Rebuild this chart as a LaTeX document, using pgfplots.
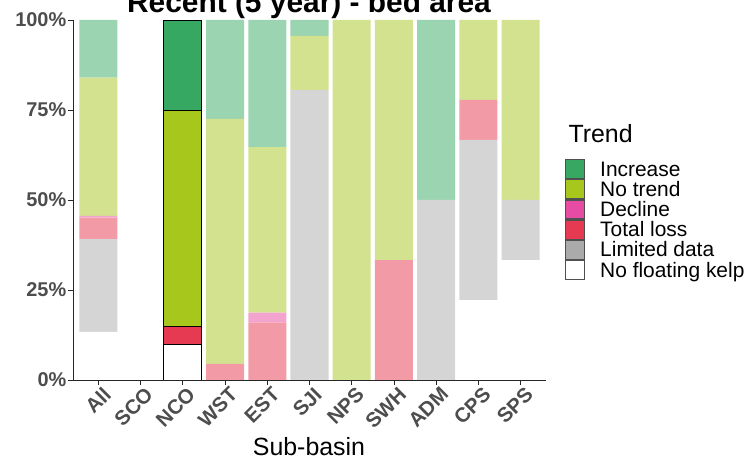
\documentclass[border=0pt]{standalone}
\usepackage{pgfplots}
\pgfplotsset{compat=1.18}
\usepackage{pgfplotstable}
\usepackage{fontspec}
\setmainfont{Liberation Sans}

\definecolor{inc}{HTML}{37A862}
\definecolor{incF}{HTML}{9BD4B1}
\definecolor{notr}{HTML}{A8C71D}
\definecolor{notrF}{HTML}{D3E28E}
\definecolor{dec}{HTML}{E64CA3}
\definecolor{decF}{HTML}{F2A3CE}
\definecolor{loss}{HTML}{E63A52}
\definecolor{lossF}{HTML}{F29BA7}
\definecolor{lim}{HTML}{AAAAAA}
\definecolor{limF}{HTML}{D5D5D5}
\definecolor{tickgray}{HTML}{4D4D4D}
\definecolor{legbord}{HTML}{505050}

\pgfplotstableread{
x kelp limited loss decline notrend increase
0 13.4 25.7 6.0 0.5 38.4 16.0
1 0 0 0 0 0 0
2 0 0 0 0 0 0
3 0 0 4.5 0 68.0 27.5
4 0 0 16.0 2.7 46.0 35.3
5 0 80.6 0 0 15.0 4.4
6 0 0 0 0 100 0
7 0 0 33.3 0 66.7 0
8 0 50 0 0 0 50
9 22.2 44.5 11.1 0 22.2 0
10 33.3 16.7 0 0 50 0
}\faded

\pgfplotstableread{
x kelp limited loss decline notrend increase
2 10 0 5 0 60 25
}\nco

\pgfplotsset{base/.style={scale only axis, width=473bp, height=360bp,
  at={(73bp,80bp)}, anchor=south west,
  xmin=-0.6, xmax=10.6, ymin=0, ymax=100, enlargelimits=false,
  ybar stacked, bar width=0.9}}

\begin{document}
\begin{tikzpicture}
\begin{axis}[base,
  axis x line*=bottom, axis y line*=left,
  axis line style={draw=black!85, line width=0.9bp},
  xtick={0,...,10},
  xticklabels={All,SCO,NCO,WST,EST,SJI,NPS,SWH,ADM,CPS,SPS},
  ytick={0,25,50,75,100},
  yticklabels={0\%,25\%,50\%,75\%,100\%},
  tick align=outside, major tick length=5bp,
  tick style={draw=black!85, line width=0.9bp},
  y tick label style={font=\fontsize{20}{20}\selectfont\bfseries, text=tickgray, inner sep=1.5bp},
  x tick label style={font=\fontsize{20.5}{20.5}\selectfont\bfseries, text=tickgray,
    rotate=45, anchor=north east, inner sep=1bp, xshift=3bp, yshift=-2bp},
]
\addplot[fill=white, draw=none] table[x=x,y=kelp]{\faded};
\addplot[fill=limF, draw=none] table[x=x,y=limited]{\faded};
\addplot[fill=lossF, draw=none] table[x=x,y=loss]{\faded};
\addplot[fill=decF, draw=none] table[x=x,y=decline]{\faded};
\addplot[fill=notrF, draw=none] table[x=x,y=notrend]{\faded};
\addplot[fill=incF, draw=none] table[x=x,y=increase]{\faded};
\end{axis}

\begin{axis}[base, hide axis,
  legend image code/.code={\draw[#1, draw=legbord, line width=1.2bp] (0bp,-9.5bp) rectangle (19bp,9.5bp);},
  reverse legend,
  legend style={at={(1.0402,0.6139)}, anchor=north west, draw=none, fill=none,
    inner sep=0pt, outer sep=0pt, row sep=0pt,
    font=\fontsize{21}{21}\selectfont,
    cells={anchor=west},
    nodes={inner sep=0pt, text height=17bp, text depth=3bp},
    /tikz/every odd column/.append style={column sep=15bp}},
]
\addplot[fill=white, draw=black, line width=0.9bp] table[x=x,y=kelp]{\nco};
\addlegendentry{No floating kelp}
\addplot[fill=lim, draw=black, line width=0.9bp] table[x=x,y=limited]{\nco};
\addlegendentry{Limited data}
\addplot[fill=loss, draw=black, line width=0.9bp] table[x=x,y=loss]{\nco};
\addlegendentry{Total loss}
\addplot[fill=dec, draw=black, line width=0.9bp] table[x=x,y=decline]{\nco};
\addlegendentry{Decline}
\addplot[fill=notr, draw=black, line width=0.9bp] table[x=x,y=notrend]{\nco};
\addlegendentry{No trend}
\addplot[fill=inc, draw=black, line width=0.9bp] table[x=x,y=increase]{\nco};
\addlegendentry{Increase}
\end{axis}

\node[anchor=base west, font=\fontsize{25}{25}\selectfont] at (565bp,317bp) {Trend};
\node[anchor=base, font=\fontsize{25}{25}\selectfont] at (309bp,5bp) {Sub-basin};
\node[anchor=base, font=\fontsize{30}{30}\selectfont\bfseries] at (309bp,447bp) {Recent (5 year) - bed area};

\pgfresetboundingbox
\useasboundingbox (0,0) rectangle (744bp,460bp);
\end{tikzpicture}
\end{document}
